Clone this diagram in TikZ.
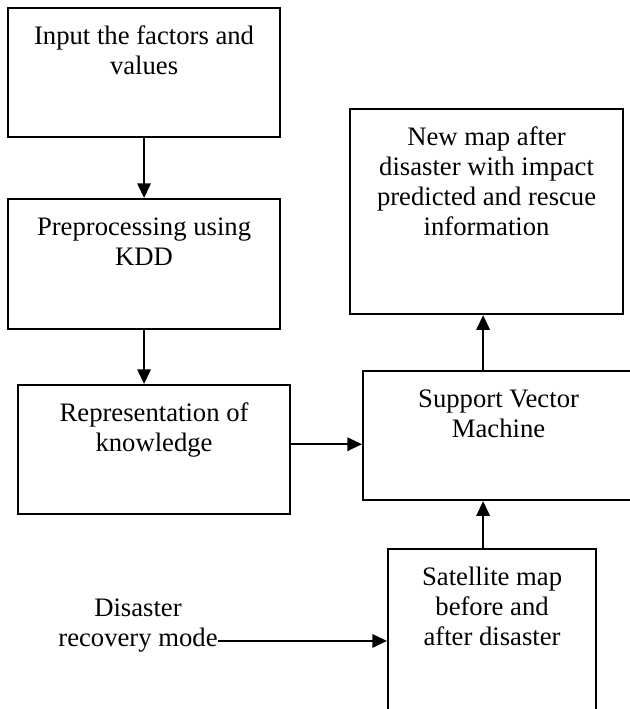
\documentclass[tikz,border=0pt]{standalone}
\usepackage{fontspec}
\setmainfont{Liberation Serif}
\usetikzlibrary{arrows.meta}
\newcommand{\boxtext}[3]{\parbox[c][#2][t]{#1}{\centering\rule{0pt}{27pt}#3\par}}
\begin{document}
\begin{tikzpicture}[>={Triangle[length=11pt,width=10pt]},x=0.75pt,y=-0.75pt,
	box/.style={draw,line width=1.6pt,inner sep=0pt,anchor=north west,font=\fontsize{20}{22.5}\selectfont},
	txt/.style={inner sep=0pt,align=center,font=\fontsize{20}{22.5}\selectfont},
	link/.style={->,line width=1.6pt}]
	\useasboundingbox (0,0) rectangle (630,709);
	\clip (0,0) rectangle (630,709);
	\node[box] (inp) at (7,7) {\boxtext{204pt}{96.75pt}{Input the factors and\\values}};
	\node[box] (pre) at (7,198) {\boxtext{204pt}{97.5pt}{Preprocessing using\\KDD}};
	\node[box] (rep) at (17,384) {\boxtext{204pt}{96.75pt}{Representation of\\knowledge}};
	\node[box] (svm) at (362,370) {\boxtext{203.25pt}{96.75pt}{Support Vector\\Machine}}; % runs past the right edge
	\node[box] (new) at (349,108) {\boxtext{204.75pt}{153.75pt}{New map after\\disaster with impact\\predicted and rescue\\information}};
	\node[box] (sat) at (387,548) {\boxtext{156pt}{135pt}{Satellite map\\before and\\after disaster}}; % runs past the bottom edge
	\node[txt,anchor=north] (dis) at (138,599) {Disaster\\recovery mode};
	\draw[link] (inp.south) -- (pre.north);
	\draw[link] (pre.south) -- (pre.south |- rep.north);
	\draw[link] ([yshift=4pt]rep.east) -- ([yshift=4pt]rep.east -| svm.west);
	\draw[link] ([xshift=-2.6pt]new.south |- svm.north) -- ([xshift=-2.6pt]new.south);
	\draw[link] ([xshift=-2.6pt]new.south |- sat.north) -- ([xshift=-2.6pt]new.south |- svm.south);
	\draw[link] ([yshift=9pt]dis.south east) coordinate (dis-out) -- (dis-out -| sat.west);
\end{tikzpicture}
\end{document}
